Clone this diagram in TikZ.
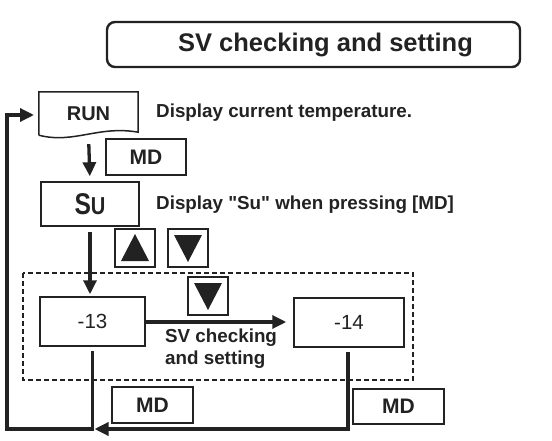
\documentclass[tikz,border=0pt]{standalone}
\usepackage{fontspec}
\setmainfont{Liberation Sans}[Ligatures=TeXOff]
\setsansfont{Liberation Sans}[Ligatures=TeXOff]
\usetikzlibrary{arrows.meta}
\definecolor{ink}{HTML}{222222}
\begin{document}
\begin{tikzpicture}[x=1pt,y=-1pt,font=\sffamily\bfseries,
  box/.style={draw=ink,line width=1.5pt,inner sep=0pt,text=ink},
  lbl/.style={text=ink,inner sep=0pt},
  arr/.style={draw=ink,line width=3.3pt,-{Triangle[length=14pt,width=13pt]}},
  tri/.style={fill=ink}]
\useasboundingbox (0,0) rectangle (552,441);
% title
\node[box,line width=2.4pt,rounded corners=8pt,minimum width=413pt,minimum height=45pt,font=\fontsize{25.5}{28}\selectfont\bfseries] (title) at (313.5,44.5) {\hspace*{24pt}SV checking and setting};
% RUN document shape
\node[lbl,minimum width=99pt,minimum height=43pt,font=\fontsize{20}{22}\selectfont\bfseries] (run) at (88.5,113.5) {RUN};
\draw[draw=ink,line width=1.5pt] (run.south west) -- (run.north west) -- (run.north east) -- ([yshift=3pt]run.south east)
  .. controls ([shift={(-40,-10)}]run.south east) and ([shift={(35,9)}]run.south west) .. (run.south west);
\node[lbl,anchor=west,font=\fontsize{18.8}{22}\selectfont\bfseries] (t1) at (156,113) {Display current temperature.};
% MD 1
\node[box,minimum width=80pt,minimum height=36pt,font=\fontsize{21}{24}\selectfont\bfseries] (md1) at (146,157) {MD};
% SU
\node[box,minimum width=98pt,minimum height=44pt,font=\fontsize{30}{32}\selectfont\bfseries] (su) at (90,204) {\scalebox{0.82}[1]{S{\fontsize{24.5}{26}\selectfont U}}};
\node[lbl,anchor=west,font=\fontsize{18.8}{22}\selectfont\bfseries] (t2) at (156,205) {Display "Su" when pressing [MD]};
% buttons
\node[box,minimum width=40pt,minimum height=38pt] (up) at (135,248) {};
\fill[tri] ([shift={(-14,13)}]up.center) -- ([shift={(14,13)}]up.center) -- ([shift={(0,-14)}]up.center) -- cycle;
\node[box,minimum width=40pt,minimum height=38pt] (dn1) at (188,248) {};
\fill[tri] ([shift={(-14,-13)}]dn1.center) -- ([shift={(14,-13)}]dn1.center) -- ([shift={(0,14)}]dn1.center) -- cycle;
% dashed area
\draw[draw=ink,line width=1.5pt,dash pattern=on 5pt off 3pt] (23,273) rectangle (413,380);
\node[box,minimum width=40pt,minimum height=38pt] (dn2) at (208,296) {};
\fill[tri] ([shift={(-14,-13)}]dn2.center) -- ([shift={(14,-13)}]dn2.center) -- ([shift={(0,14)}]dn2.center) -- cycle;
\node[box,minimum width=105pt,minimum height=49pt,font=\fontsize{20.5}{22}\selectfont\mdseries] (n13) at (92.5,321.5) {-13};
\node[box,minimum width=110pt,minimum height=49pt,font=\fontsize{20.5}{22}\selectfont\mdseries] (n14) at (349,322.5) {-14};
\node[lbl,anchor=north west,align=left,font=\fontsize{18.8}{21.5}\selectfont\bfseries] (t3) at (165,329) {SV checking\\and setting};
% bottom MD boxes
\node[box,minimum width=81pt,minimum height=36pt,font=\fontsize{21}{24}\selectfont\bfseries] (md2) at (152.5,405) {MD};
\node[box,minimum width=91pt,minimum height=35pt,font=\fontsize{21}{24}\selectfont\bfseries] (md3) at (398.5,406.5) {MD};
% connectors
\coordinate (bl) at (7,429);
\coordinate (j13) at (92.5,429);
\coordinate (j14) at (348,429);
\coordinate (tl) at (7,115);
\coordinate (runin) at (34,115);
\draw[arr,shorten <=9pt,shorten >=5pt] (run.south) -- (su.north);
\draw[arr,shorten <=5pt,shorten >=2pt] (su.south) -- (su.south |- n13.north);
\draw[arr,shorten <=0pt,shorten >=7pt] (n13.east |- 0,322) -- (n14.west |- 0,322);
\draw[arr,line join=miter,shorten <=4pt] (n13.south) -- (j13) -- (bl) -- (tl) -- (runin);
\draw[arr,line join=miter,shorten <=4pt] (n14.south -| j14) -- (j14) -- ([xshift=2pt]j13);
\end{tikzpicture}
\end{document}
